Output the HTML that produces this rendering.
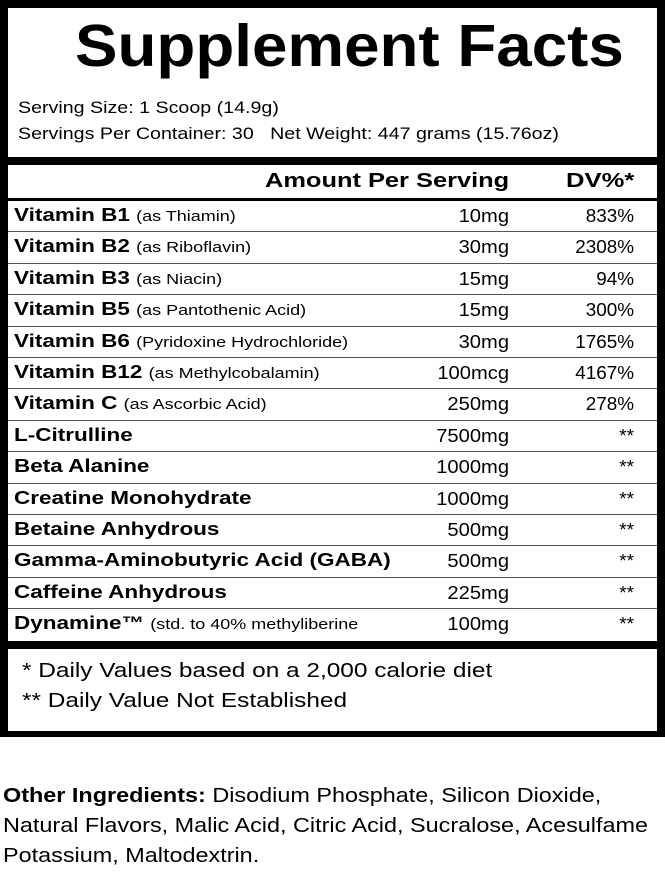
<!DOCTYPE html>
<html><head><meta charset="utf-8"><style>
*{margin:0;padding:0;box-sizing:border-box}
body{width:665px;height:875px;background:#fff;position:relative;font-family:"Liberation Sans",sans-serif;color:#000;overflow:hidden}
.a{position:absolute;white-space:nowrap}
.blk{position:absolute;background:#000}
.row{position:absolute;left:8px;width:649px;height:31.4px;border-bottom:1.5px solid #555}
.row .n{position:absolute;left:6px;top:4px;font-size:18px;font-weight:bold;transform:scaleX(1.25);transform-origin:left center;white-space:nowrap}
.row .n span{font-weight:normal;font-size:14.4px}
.row .v{position:absolute;right:148px;top:5px;font-size:18px;transform:scaleX(1.12);transform-origin:right center}
.row .d{position:absolute;right:23px;top:5px;font-size:18px;transform:scaleX(1.05);transform-origin:right center}
.sx{transform-origin:left center}
</style></head><body>
<div class="blk" style="left:0;top:0;width:665px;height:737px"></div>
<div class="a" style="left:8px;top:8px;width:649px;height:149px;background:#fff"></div>
<div class="a" style="left:8px;top:165px;width:649px;height:476px;background:#fff"></div>
<div class="a" style="left:8px;top:649px;width:649px;height:82px;background:#fff"></div>
<div class="a sx" style="left:75px;top:12px;font-size:59px;font-weight:bold;transform:scaleX(1.08)">Supplement Facts</div>
<div class="a sx" style="left:18px;top:99px;font-size:16.5px;transform:scaleX(1.19)">Serving Size: 1 Scoop (14.9g)</div>
<div class="a sx" style="left:18px;top:125px;font-size:16.5px;transform:scaleX(1.19)">Servings Per Container: 30&nbsp;&nbsp;&nbsp;Net Weight: 447 grams (15.76oz)</div>
<div class="a sx" style="left:265px;top:170px;font-size:20px;font-weight:bold;transform:scaleX(1.27)">Amount Per Serving</div>
<div class="a sx" style="left:566px;top:170px;font-size:20px;font-weight:bold;transform:scaleX(1.28)">DV%*</div>
<div class="blk" style="left:8px;top:198px;width:649px;height:3px"></div>
<div class="row" style="top:201px"><div class="n">Vitamin B1 <span>(as Thiamin)</span></div><div class="v">10mg</div><div class="d">833%</div></div>
<div class="row" style="top:232.4px"><div class="n">Vitamin B2 <span>(as Riboflavin)</span></div><div class="v">30mg</div><div class="d">2308%</div></div>
<div class="row" style="top:263.8px"><div class="n">Vitamin B3 <span>(as Niacin)</span></div><div class="v">15mg</div><div class="d">94%</div></div>
<div class="row" style="top:295.2px"><div class="n">Vitamin B5 <span>(as Pantothenic Acid)</span></div><div class="v">15mg</div><div class="d">300%</div></div>
<div class="row" style="top:326.6px"><div class="n">Vitamin B6 <span>(Pyridoxine Hydrochloride)</span></div><div class="v">30mg</div><div class="d">1765%</div></div>
<div class="row" style="top:358px"><div class="n">Vitamin B12 <span>(as Methylcobalamin)</span></div><div class="v">100mcg</div><div class="d">4167%</div></div>
<div class="row" style="top:389.4px"><div class="n">Vitamin C <span>(as Ascorbic Acid)</span></div><div class="v">250mg</div><div class="d">278%</div></div>
<div class="row" style="top:420.8px"><div class="n">L-Citrulline</div><div class="v">7500mg</div><div class="d">**</div></div>
<div class="row" style="top:452.2px"><div class="n">Beta Alanine</div><div class="v">1000mg</div><div class="d">**</div></div>
<div class="row" style="top:483.6px"><div class="n">Creatine Monohydrate</div><div class="v">1000mg</div><div class="d">**</div></div>
<div class="row" style="top:515px"><div class="n">Betaine Anhydrous</div><div class="v">500mg</div><div class="d">**</div></div>
<div class="row" style="top:546.4px"><div class="n">Gamma-Aminobutyric Acid (GABA)</div><div class="v">500mg</div><div class="d">**</div></div>
<div class="row" style="top:577.8px"><div class="n">Caffeine Anhydrous</div><div class="v">225mg</div><div class="d">**</div></div>
<div class="row" style="top:609.2px;border:none"><div class="n">Dynamine™ <span>(std. to 40% methyliberine</span></div><div class="v">100mg</div><div class="d">**</div></div>
<div class="a sx" style="left:22px;top:660px;font-size:20px;transform:scaleX(1.22)">* Daily Values based on a 2,000 calorie diet</div>
<div class="a sx" style="left:22px;top:690px;font-size:20px;transform:scaleX(1.22)">** Daily Value Not Established</div>
<div class="a sx" style="left:3px;top:785px;font-size:20px;transform:scaleX(1.17)"><b>Other Ingredients:</b> Disodium Phosphate, Silicon Dioxide,</div>
<div class="a sx" style="left:3px;top:815px;font-size:20px;transform:scaleX(1.17)">Natural Flavors, Malic Acid, Citric Acid, Sucralose, Acesulfame</div>
<div class="a sx" style="left:3px;top:845px;font-size:20px;transform:scaleX(1.17)">Potassium, Maltodextrin.</div>
</body></html>
